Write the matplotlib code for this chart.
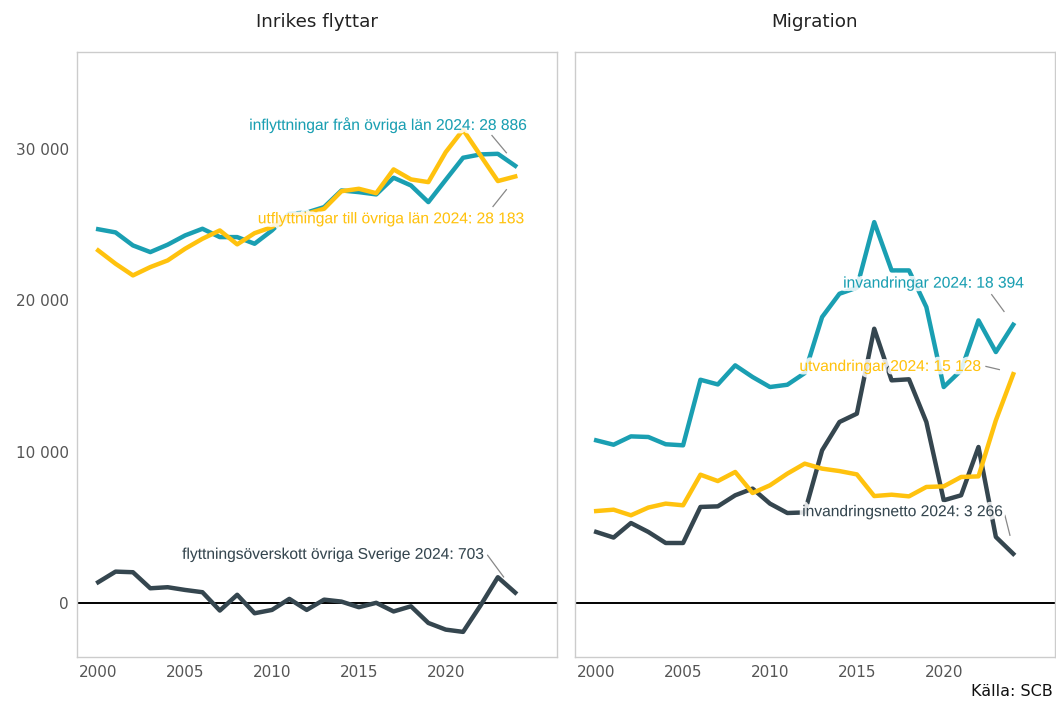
import numpy as np
import matplotlib.pyplot as plt
import matplotlib.patheffects as pe

# Färger
TEAL = "#1a9fb2"
YELLOW = "#ffc20e"
DARK = "#35464f"

years = list(range(2000, 2025))

# Inrikes flyttar
inflytt = [24700, 24490, 23630, 23190, 23680, 24290, 24730, 24180, 24180, 23740,
           24620, 25720, 25800, 26160, 27260, 27150, 27000, 28100, 27590, 26490,
           27960, 29420, 29640, 29680, 28886]
utflytt = [23300, 22420, 21650, 22200, 22640, 23410, 24070, 24620, 23700, 24440,
           24840, 25610, 25720, 26050, 27210, 27370, 27080, 28650, 27990, 27810,
           29790, 31270, 29570, 27880, 28183]
flyttnetto = [1390, 2090, 2050, 990, 1060, 880, 730, -480, 560, -660,
              -440, 290, -440, 240, 110, -260, 30, -540, -200, -1300,
              -1740, -1890, -150, 1720, 703]

# Migration
invandr = [10760, 10470, 11020, 10980, 10500, 10430, 14760, 14450, 15710, 14940,
           14280, 14430, 15200, 18900, 20440, 20840, 25170, 21980, 21980, 19560,
           14280, 15380, 18680, 16590, 18394]
utvandr = [6090, 6180, 5810, 6320, 6580, 6470, 8490, 8070, 8670, 7280,
           7790, 8560, 9220, 8890, 8730, 8510, 7080, 7170, 7060, 7680,
           7720, 8340, 8380, 12080, 15128]
invnetto = [4710, 4340, 5300, 4710, 3980, 3980, 6360, 6400, 7130, 7570,
            6580, 5960, 6000, 10100, 11970, 12520, 18130, 14720, 14790, 11970,
            6800, 7130, 10320, 4380, 3266]

yticks = [0, 10000, 20000, 30000]
ytick_labels = ["0", "10 000", "20 000", "30 000"]
xticks = [2000, 2005, 2010, 2015, 2020]

fig = plt.figure(figsize=(10.56, 7.09), dpi=100)
ax1 = fig.add_axes([0.0729, 0.0733, 0.4545, 0.8533])
ax2 = fig.add_axes([0.5445, 0.0733, 0.4545, 0.8533])

halo = [pe.withStroke(linewidth=5, foreground=(1, 1, 1, 0.85))]


def lbl(ax, text, color, xy_text, seg_start, seg_end):
    # etikett + kort grå linje mot sista punkten
    ax.text(xy_text[0], xy_text[1], text, color=color, ha="right", va="center",
            fontsize=11.2, family="Liberation Sans", path_effects=halo, zorder=5)
    ax.plot([seg_start[0], seg_end[0]], [seg_start[1], seg_end[1]],
            color="#888888", lw=0.9, zorder=4)


for ax in (ax1, ax2):
    ax.axhline(0, color="black", lw=1.4, zorder=1)
    ax.set_xlim(1998.78, 2026.4)
    ax.set_ylim(-3550, 36400)
    ax.set_xticks(xticks)
    ax.set_yticks(yticks)
    ax.tick_params(length=0, labelsize=11, labelcolor="#555555", pad=6)
    for s in ax.spines.values():
        s.set_color("#cccccc")
        s.set_linewidth(1)

ax1.set_yticklabels(ytick_labels)
ax2.set_yticklabels([])

ax1.plot(years, flyttnetto, color=DARK, lw=3.2, zorder=2)
ax1.plot(years, inflytt, color=TEAL, lw=3.2, zorder=2)
ax1.plot(years, utflytt, color=YELLOW, lw=3.2, zorder=3)

ax2.plot(years, invnetto, color=DARK, lw=3.2, zorder=2)
ax2.plot(years, invandr, color=TEAL, lw=3.2, zorder=2)
ax2.plot(years, utvandr, color=YELLOW, lw=3.2, zorder=3)

lbl(ax1, "inflyttningar från övriga län 2024: 28 886", TEAL,
    (2024.64, 31620), (2022.66, 30890), (2023.49, 29750))
lbl(ax1, "utflyttningar till övriga län 2024: 28 183", YELLOW,
    (2024.48, 25390), (2023.49, 27310), (2022.72, 26200))
lbl(ax1, "flyttningsöverskott övriga Sverige 2024: 703", DARK,
    (2022.14, 3230), (2022.41, 3170), (2023.33, 1740))

lbl(ax2, "invandringar 2024: 18 394", TEAL,
    (2024.57, 21140), (2022.76, 20380), (2023.47, 19270))
lbl(ax2, "utvandringar 2024: 15 128", YELLOW,
    (2022.09, 15640), (2022.43, 15640), (2023.2, 15430))
lbl(ax2, "invandringsnetto 2024: 3 266", DARK,
    (2023.38, 6050), (2023.52, 5810), (2023.81, 4490))

fig.text(0.3, 0.969, "Inrikes flyttar", ha="center", va="center", fontsize=13.2, color="#222222")
fig.text(0.7717, 0.969, "Migration", ha="center", va="center", fontsize=13.2, color="#222222")
fig.text(0.997, 0.024, "Källa: SCB", ha="right", va="center", fontsize=11.5, color="#111111")

fig.savefig("out.png", dpi=100, facecolor="white")
